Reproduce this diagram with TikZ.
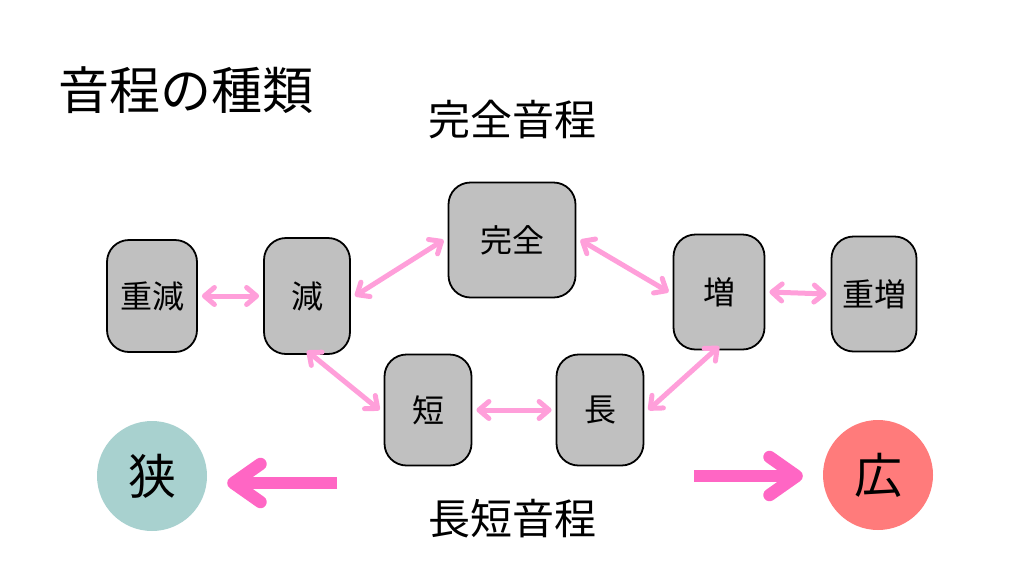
\documentclass[tikz,border=0pt]{standalone}
\usepackage{fontspec}
\setmainfont{Noto Sans CJK JP}
\usetikzlibrary{arrows.meta}
\definecolor{boxgray}{HTML}{C0C0C0}
\definecolor{lpink}{HTML}{FF9FDA}
\definecolor{bpink}{HTML}{FF66C4}
\definecolor{teal}{HTML}{A8D1CF}
\definecolor{salmon}{HTML}{FF7B7B}
\tikzset{
  ibox/.style={draw=black, line width=1.8pt, fill=boxgray, rounded corners=22pt,
    minimum width=#1, font=\fontsize{32pt}{35pt}\selectfont, inner sep=0pt},
  ibox/.default=88pt,
  link/.style={lpink, line width=5pt, line cap=round,
    {Straight Barb[round,length=10pt,width=17pt]}-{Straight Barb[round,length=10pt,width=17pt]}},
  bigarrow/.style={bpink, line width=12.5pt,
    -{Straight Barb[round,length=27pt,width=38pt]}},
  circ/.style={circle, minimum size=110pt, inner sep=0pt, font=\fontsize{48pt}{52pt}\selectfont},
  ttl/.style={font=\fontsize{42pt}{46pt}\selectfont, inner sep=0pt}
}
\begin{document}
\begin{tikzpicture}[x=1pt,y=-1pt]
\useasboundingbox (0,0) rectangle (1024,576);
\node[ttl, font=\fontsize{51pt}{55pt}\selectfont, anchor=west] (title) at (58,90) {音程の種類};
\node[ttl] (kanzen) at (512,120) {完全音程};
\node[ttl] (choutan) at (512,519) {長短音程};

\node[ibox=90pt, minimum height=112pt] (juugen) at (152,296) {重減};
\node[ibox=86pt, minimum height=116pt] (gen) at (307,296) {減};
\node[ibox=127pt, minimum height=115pt] (kan) at (512,240) {完全};
\node[ibox=91pt, minimum height=115pt] (zou) at (719,292) {増};
\node[ibox=85pt, minimum height=115pt] (juuzou) at (874,294) {重増};
\node[ibox=87pt, minimum height=111pt] (tan) at (428,410) {短};
\node[ibox=87pt, minimum height=111pt] (chou) at (600,410) {長};

\draw[link] ([xshift=4pt]juugen.east) -- ([xshift=-4pt]gen.west);
\draw[link] ([xshift=4pt]gen.east) -- ([xshift=-4pt]kan.west);
\draw[link] ([xshift=4pt]kan.east) -- ([xshift=-4pt]zou.west);
\draw[link] ([xshift=4pt]zou.east) -- ([xshift=-4pt]juuzou.west);
\draw[link] ([yshift=4pt]gen.south) -- ([xshift=-4pt]tan.west);
\draw[link] ([xshift=4pt]tan.east) -- ([xshift=-4pt]chou.west);
\draw[link] ([xshift=4pt]chou.east) -- ([yshift=4pt]zou.south);

\node[circ, fill=teal] (semai) at (152,476) {狭};
\node[circ, fill=salmon] (hiroi) at (878,475) {広};

\coordinate (la) at (337,483);
\coordinate (ra) at (694,476);
\draw[bigarrow] (la) -- ([xshift=20pt]semai.east |- la);
\draw[bigarrow] (ra) -- ([xshift=-20pt]hiroi.west |- ra);
\end{tikzpicture}
\end{document}
